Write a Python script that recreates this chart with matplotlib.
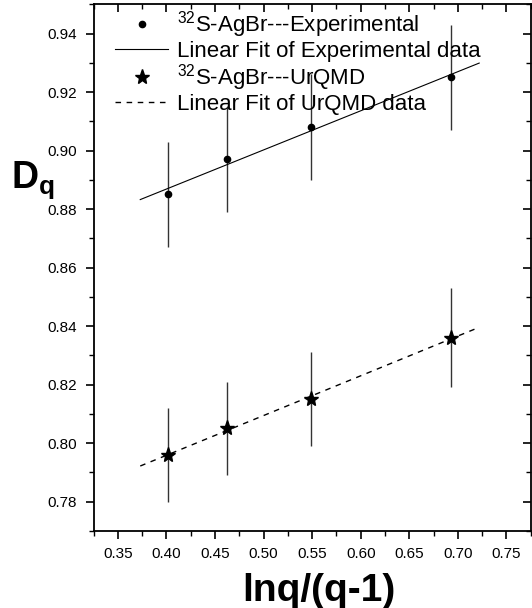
import numpy as np
import matplotlib
matplotlib.use("Agg")
import matplotlib.pyplot as plt
from matplotlib.ticker import FormatStrFormatter
from matplotlib.lines import TICKDOWN, TICKLEFT

plt.rcParams["font.family"] = ["Liberation Sans", "DejaVu Sans"]
plt.rcParams["mathtext.fontset"] = "custom"
plt.rcParams["mathtext.rm"] = "Liberation Sans"
plt.rcParams["mathtext.bf"] = "Liberation Sans:bold"

# lnq/(q-1) for q = 2..5
x_vals = [0.402, 0.462, 0.549, 0.693]
exp_dq = [0.885, 0.897, 0.908, 0.925]
exp_err = [0.018, 0.018, 0.018, 0.018]
urqmd_dq = [0.796, 0.805, 0.815, 0.836]
urqmd_err = [0.016, 0.016, 0.016, 0.017]
fit_range = [0.373, 0.722]

fig = plt.figure(figsize=(5.32, 6.08), dpi=100)
ax = fig.add_axes([0.176, 0.127, 0.8215, 0.866])

# error bars
ax.errorbar(x_vals, exp_dq, yerr=exp_err, fmt="none", ecolor="#333333", elinewidth=1.0)
ax.errorbar(x_vals, urqmd_dq, yerr=urqmd_err, fmt="none", ecolor="#333333", elinewidth=1.0)

# linear fits
xf = np.array(fit_range)
p_exp = np.polyfit(x_vals, exp_dq, 1)
p_urq = np.polyfit(x_vals, urqmd_dq, 1)

h1, = ax.plot(x_vals, exp_dq, "o", color="black", markersize=4.5, linestyle="none",
              label=r"$^{32}$S-AgBr---Experimental", zorder=3)
h2, = ax.plot(xf, np.polyval(p_exp, xf), "-", color="black", linewidth=0.8,
              label="Linear Fit of Experimental data")
h3, = ax.plot(x_vals, urqmd_dq, "*", color="black", markersize=11, linestyle="none",
              label=r"$^{32}$S-AgBr---UrQMD", zorder=3)
h4, = ax.plot(xf, np.polyval(p_urq, xf), "--", color="black", linewidth=1.0,
              dashes=(4, 4), label="Linear Fit of UrQMD data")

ax.set_xlim(0.325, 0.775)
ax.set_ylim(0.77, 0.95)
ax.set_xticks(np.arange(0.35, 0.751, 0.05))
ax.set_xticks(np.arange(0.325, 0.776, 0.05), minor=True)
ax.set_yticks(np.arange(0.78, 0.941, 0.02))
ax.set_yticks(np.arange(0.77, 0.951, 0.02), minor=True)
ax.xaxis.set_major_formatter(FormatStrFormatter("%.2f"))
ax.yaxis.set_major_formatter(FormatStrFormatter("%.2f"))

ax.tick_params(axis="both", which="major", direction="out", length=6, width=1.2,
               labelsize=11, pad=6)
ax.tick_params(axis="both", which="minor", direction="out", length=3.5, width=1.0)
ax.tick_params(top=True, right=True, which="both")
for side in ["left", "bottom", "top", "right"]:
    ax.spines[side].set_linewidth(1.3)

# top/right ticks point inward
for tick in ax.xaxis.get_major_ticks() + ax.xaxis.get_minor_ticks():
    tick.tick2line.set_marker(TICKDOWN)
for tick in ax.yaxis.get_major_ticks() + ax.yaxis.get_minor_ticks():
    tick.tick2line.set_marker(TICKLEFT)

ax.legend(handles=[h1, h2, h3, h4], loc="upper left", bbox_to_anchor=(0.049, 0.99),
          frameon=False, fontsize=16, borderpad=0, borderaxespad=0,
          labelspacing=0.02, handlelength=2.4, handletextpad=0.4)

fig.text(0.062, 0.703, r"$\mathbf{D}_\mathbf{q}$", fontsize=27, ha="center", va="center")
fig.text(0.60, 0.028, "lnq/(q-1)", fontsize=28, fontweight="bold", ha="center", va="center")

fig.savefig("out.png", dpi=100)
